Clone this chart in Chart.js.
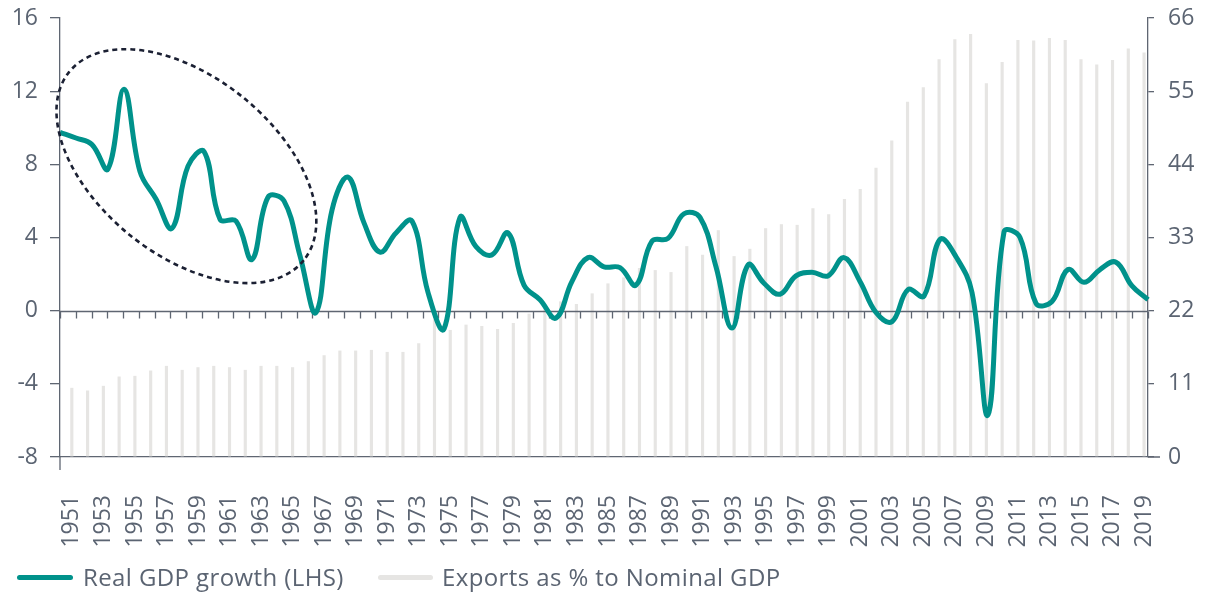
<!DOCTYPE html>
<html>
<head>
<meta charset="utf-8">
<script src="https://cdn.jsdelivr.net/npm/chart.js@4/dist/chart.umd.min.js"></script>
<style>
  html, body { margin: 0; padding: 0; background: #fff; }
  #wrap { width: 1214px; height: 592px; position: relative; }
  .legend { position: absolute; top: 561px; left: 0; width: 1214px; height: 32px; font-family: 'Open Sans', 'Noto Sans', sans-serif;
    font-size: 24px; letter-spacing: 0.4px; color: #5b6472; }
  .legend .swatch { position: absolute; top: 14px; height: 5px; border-radius: 3px; }
  .legend .label { position: absolute; top: 0; white-space: nowrap; line-height: 32px; }
</style>
</head>
<body>
<div id="wrap">
  <canvas id="chart"></canvas>
  <div class="legend" id="legend"></div>
</div>
<script>
// Categories
const years = ['1951','1952','1953','1954','1955','1956','1957','1958','1959','1960',
  '1961','1962','1963','1964','1965','1966','1967','1968','1969','1970',
  '1971','1972','1973','1974','1975','1976','1977','1978','1979','1980',
  '1981','1982','1983','1984','1985','1986','1987','1988','1989','1990',
  '1991','1992','1993','1994','1995','1996','1997','1998','1999','2000',
  '2001','2002','2003','2004','2005','2006','2007','2008','2009','2010',
  '2011','2012','2013','2014','2015','2016','2017','2018','2019'];

// Real GDP growth, % (left axis)
const gdpGrowth = [9.75, 9.44, 9.08, 7.75, 12.1, 7.6, 6.1, 4.5, 7.9, 8.7,
  5.0, 4.9, 2.8, 6.2, 6.0, 3.0, -0.1, 5.5, 7.3, 4.8,
  3.2, 4.25, 4.9, 1.0, -1.0, 5.1, 3.5, 3.05, 4.25, 1.4,
  0.6, -0.4, 1.6, 2.9, 2.4, 2.35, 1.4, 3.8, 3.95, 5.3,
  5.1, 2.4, -0.95, 2.5, 1.5, 0.9, 1.9, 2.1, 1.9, 2.9,
  1.6, -0.1, -0.6, 1.15, 0.8, 3.9, 2.95, 1.0, -5.7, 4.3,
  4.0, 0.4, 0.5, 2.25, 1.55, 2.25, 2.65, 1.35, 0.6];

// Exports as % of nominal GDP (right axis)
const exportsShare = [10.4, 10.0, 10.7, 12.1, 12.2, 13.0, 13.7, 13.1, 13.5, 13.7,
  13.5, 13.1, 13.7, 13.7, 13.5, 14.4, 15.3, 16.0, 16.0, 16.1,
  15.8, 15.8, 17.1, 20.7, 19.1, 19.9, 19.7, 19.25, 20.15, 21.55,
  22.8, 23.4, 23.0, 24.6, 26.1, 27.0, 28.4, 28.1, 27.8, 31.7,
  30.4, 34.1, 30.2, 31.3, 34.4, 35.0, 34.9, 37.4, 36.5, 38.8,
  40.3, 43.5, 47.6, 53.4, 55.6, 59.8, 62.8, 63.6, 56.2, 59.4,
  62.7, 62.6, 63.0, 62.7, 59.8, 59.0, 59.7, 61.4, 60.8];

const leftTicks = [-8, -4, 0, 4, 8, 12, 16];
const rightTicks = [0, 11, 22, 33, 44, 55, 66];

const TEAL = '#00928b';
const BAR_GREY = '#e6e5e3';
const AXIS = '#5f6672';
const TEXT = '#5b6472';

Chart.defaults.font.family = "'Open Sans', 'Noto Sans', sans-serif";
Chart.defaults.color = TEXT;

// zero line with small ticks between categories (axis crosses at 0)
const zeroAxis = {
  id: 'zeroAxis',
  afterDatasetDraw(chart, args) {
    if (args.index !== 1) return;
    const ctx = chart.ctx;
    const area = chart.chartArea;
    const x = chart.scales.x;
    const y0 = Math.round(chart.scales.y.getPixelForValue(0)) + 0.5;
    const half = (x.getPixelForValue(1) - x.getPixelForValue(0)) / 2;
    ctx.save();
    ctx.strokeStyle = AXIS;
    ctx.lineWidth = 1.3;
    ctx.beginPath();
    ctx.moveTo(area.left, y0);
    ctx.lineTo(area.right, y0);
    for (let i = 0; i <= years.length; i++) {
      const px = Math.round(x.getPixelForValue(i) - half) + 0.5;
      ctx.moveTo(px, y0);
      ctx.lineTo(px, y0 + 7);
    }
    // little stubs at the bottom corners
    ctx.moveTo(area.left, area.bottom);
    ctx.lineTo(area.left, area.bottom + 13);
    ctx.moveTo(area.right, area.bottom);
    ctx.lineTo(area.right + 12, area.bottom);
    ctx.stroke();
    ctx.restore();
  }
};

// dashed ellipse around the 1950s-60s
const ellipseNote = {
  id: 'ellipseNote',
  afterDraw(chart) {
    const xs = chart.scales.xLine;
    const ys = chart.scales.y;
    const step = xs.getPixelForValue(1) - xs.getPixelForValue(0);
    const ctx = chart.ctx;
    ctx.save();
    ctx.strokeStyle = '#1b2033';
    ctx.lineWidth = 2.6;
    ctx.setLineDash([5, 4]);
    ctx.beginPath();
    ctx.ellipse(xs.getPixelForValue(7.9), ys.getPixelForValue(7.9),
      9.4 * step, 5.57 * step, 38.7 * Math.PI / 180, 0, Math.PI * 2);
    ctx.stroke();
    ctx.restore();
  }
};

const noVPad = (scale) => { scale.paddingTop = 0; scale.paddingBottom = 0; };

const chart = new Chart(document.getElementById('chart'), {
  data: {
    labels: years,
    datasets: [
      {
        type: 'line',
        label: 'Real GDP growth (LHS)',
        data: gdpGrowth,
        xAxisID: 'xLine',
        yAxisID: 'y',
        borderColor: TEAL,
        borderWidth: 5,
        pointRadius: 0,
        tension: 0.4,
        order: 1
      },
      {
        type: 'bar',
        label: 'Exports as % to Nominal GDP',
        data: exportsShare,
        xAxisID: 'x',
        yAxisID: 'y1',
        backgroundColor: BAR_GREY,
        categoryPercentage: 1,
        barPercentage: 0.4,
        order: 2
      }
    ]
  },
  options: {
    responsive: true,
    maintainAspectRatio: false,
    animation: false,
    layout: { padding: { top: 18, left: 0, right: 0, bottom: 45 } },
    plugins: {
      tooltip: { enabled: false },
      legend: { display: false }
    },
    scales: {
      x: {
        type: 'category',
        position: 'bottom',
        offset: true,
        grid: { display: false },
        border: { display: true, color: AXIS, width: 1.3 },
        ticks: {
          autoSkip: false,
          minRotation: 90,
          maxRotation: 90,
          padding: 30,
          labelOffset: 4,
          font: { size: 23 },
          color: TEXT,
          callback: (v, i) => (i % 2 === 0 ? years[i] : '')
        },
        afterFit(scale) { scale.height = 90; }
      },
      xLine: {
        type: 'category',
        offset: false,
        display: false
      },
      y: {
        position: 'left',
        min: -8,
        max: 16,
        afterBuildTicks(scale) { scale.ticks = leftTicks.map(v => ({ value: v })); },
        grid: { drawOnChartArea: false, drawTicks: true, tickLength: 10, color: AXIS, lineWidth: 1.3 },
        border: { display: true, color: AXIS, width: 1.3 },
        ticks: { padding: 12, font: { size: 23 }, color: TEXT },
        afterFit(scale) { scale.width = 60; noVPad(scale); }
      },
      y1: {
        position: 'right',
        min: 0,
        max: 66,
        afterBuildTicks(scale) { scale.ticks = rightTicks.map(v => ({ value: v })); },
        grid: { drawOnChartArea: false, drawTicks: true, tickLength: 6, color: AXIS, lineWidth: 1.3 },
        border: { display: true, color: AXIS, width: 1.3 },
        ticks: { padding: 14, font: { size: 23 }, color: TEXT },
        afterFit(scale) { scale.width = 66; noVPad(scale); }
      }
    }
  },
  plugins: [zeroAxis, ellipseNote]
});

// legend as real text under the chart
const legendItems = [
  { text: chart.data.datasets[0].label, color: TEAL, swatchLeft: 17, swatchWidth: 56, textLeft: 83 },
  { text: chart.data.datasets[1].label, color: BAR_GREY, swatchLeft: 378, swatchWidth: 55, textLeft: 442 }
];
const legendEl = document.getElementById('legend');
legendItems.forEach(it => {
  const sw = document.createElement('div');
  sw.className = 'swatch';
  sw.style.left = it.swatchLeft + 'px';
  sw.style.width = it.swatchWidth + 'px';
  sw.style.background = it.color;
  const lb = document.createElement('div');
  lb.className = 'label';
  lb.style.left = it.textLeft + 'px';
  lb.textContent = it.text;
  legendEl.appendChild(sw);
  legendEl.appendChild(lb);
});
</script>
</body>
</html>
